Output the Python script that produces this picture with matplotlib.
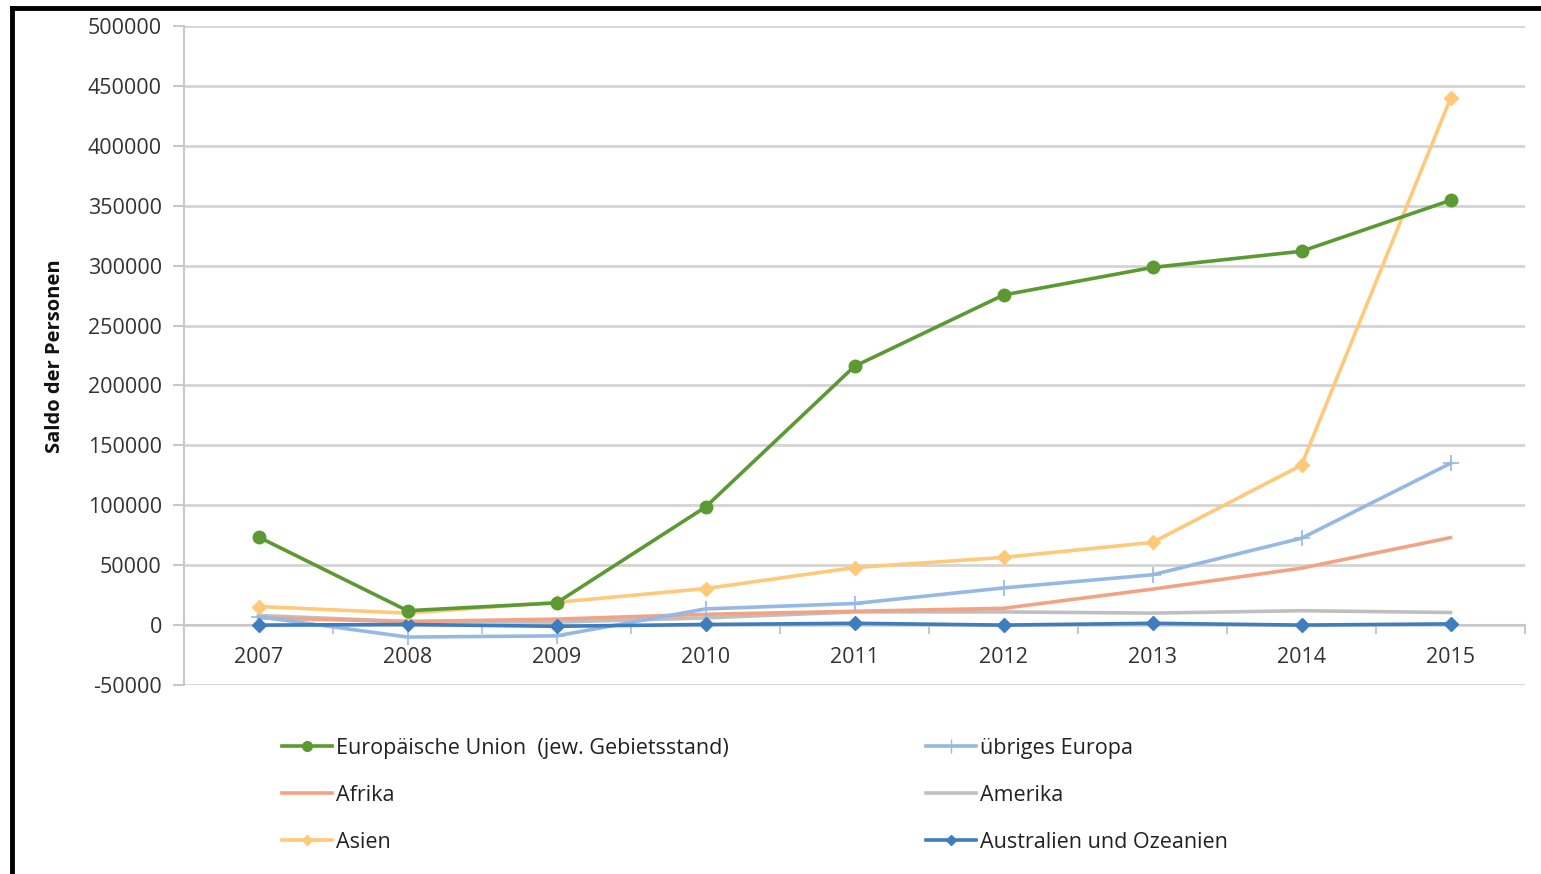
import matplotlib
matplotlib.use("Agg")
import matplotlib.pyplot as plt
from matplotlib.lines import Line2D

years = ["2007", "2008", "2009", "2010", "2011", "2012", "2013", "2014", "2015"]
eu = [73500, 12000, 18500, 98500, 216000, 275500, 298500, 312000, 354500]
uebriges_europa = [7000, -10000, -9000, 13500, 18000, 31000, 42000, 72500, 135000]
afrika = [6000, 3000, 5000, 9000, 11500, 14000, 30000, 47500, 73000]
amerika = [8000, 3000, 2500, 6000, 11000, 11000, 10000, 12000, 10500]
asien = [15500, 10000, 19000, 30500, 48000, 56500, 69000, 133500, 439500]
australien = [0, 500, -1000, 500, 1500, 0, 1500, 0, 1000]

labels = ["Europäische Union  (jew. Gebietsstand)", "übriges Europa", "Afrika",
          "Amerika", "Asien", "Australien und Ozeanien"]

plt.rcParams['font.family'] = ['Open Sans', 'DejaVu Sans']
FS = 15.5

fig = plt.figure(figsize=(15.41, 8.74), dpi=100)
W, H = 1541, 874
ax = fig.add_axes([184 / W, 1 - 685 / H, (1525 - 184) / W, (685 - 26) / H])

x = list(range(len(years)))
lw = 2.6
ax.plot(x, amerika, color="#BFBFBF", lw=lw, zorder=3)
ax.plot(x, afrika, color="#F2A386", lw=lw, zorder=3)
ax.plot(x, uebriges_europa, color="#95B8E4", lw=lw, marker="+", ms=12, mew=1.2, zorder=4)
ax.plot(x, australien, color="#3E7DC0", lw=lw, marker="D", ms=7, zorder=5)
ax.plot(x, asien, color="#FFC97A", lw=lw, marker="D", ms=7, zorder=5)
ax.plot(x, eu, color="#5B9A32", lw=lw, marker="o", ms=9, zorder=6)

ax.set_xlim(-0.5, len(years) - 0.5)
ax.set_ylim(-50000, 500000)
ax.set_yticks(range(-50000, 500001, 50000))
ax.set_yticklabels([str(v) for v in range(-50000, 500001, 50000)])
ax.yaxis.grid(True, color="#D4D4D4", lw=2)
ax.set_axisbelow(True)
for s in ["top", "right", "bottom"]:
    ax.spines[s].set_visible(False)
ax.spines["left"].set_color("#C8C8C8")
ax.spines["left"].set_linewidth(1.5)
ax.tick_params(axis="y", length=8, color="#C8C8C8", width=1.5, labelsize=FS,
               labelcolor="#333333", pad=8)
ax.set_xticks([])
# category axis at y=0
ax.axhline(0, color="#C8C8C8", lw=1.5, zorder=2)
for b in [i + 0.5 for i in range(len(years))]:
    ax.plot([b, b], [0, -6500], color="#C8C8C8", lw=1.5, zorder=2, clip_on=False)
for i, yr in enumerate(years):
    ax.text(i, -27000, yr, ha="center", va="center", fontsize=FS, color="#333333")

fig.text(55 / W, 1 - 356 / H, "Saldo der Personen", rotation=90, ha="center",
         va="center", fontsize=14.5, fontweight="bold", color="#111111")

h_eu = Line2D([], [], color="#5B9A32", lw=lw, marker="o", ms=7)
h_af = Line2D([], [], color="#F2A386", lw=lw)
h_as = Line2D([], [], color="#FFC97A", lw=lw, marker="D", ms=5)
h_ue = Line2D([], [], color="#95B8E4", lw=lw, marker="+", ms=10)
h_am = Line2D([], [], color="#BFBFBF", lw=lw)
h_au = Line2D([], [], color="#3E7DC0", lw=lw, marker="D", ms=5)

common = dict(frameon=False, fontsize=FS, loc="upper left", handlelength=2.3,
              handletextpad=0.2, labelspacing=1.2, borderpad=0, borderaxespad=0,
              labelcolor="#222222")
leg1 = fig.legend([h_eu, h_af, h_as], [labels[0], labels[2], labels[4]],
                  bbox_to_anchor=(282 / W, 1 - 738 / H), **common)
leg2 = fig.legend([h_ue, h_am, h_au], [labels[1], labels[3], labels[5]],
                  bbox_to_anchor=(926 / W, 1 - 738 / H), **common)

# black frame on top and left
fig.add_artist(Line2D([12 / W, 1], [1 - 8 / H, 1 - 8 / H], color="black", lw=3.5,
                      transform=fig.transFigure))
fig.add_artist(Line2D([12 / W, 12 / W], [0, 1 - 8 / H], color="black", lw=3.5,
                      transform=fig.transFigure))

fig.savefig("out.png", dpi=100)
